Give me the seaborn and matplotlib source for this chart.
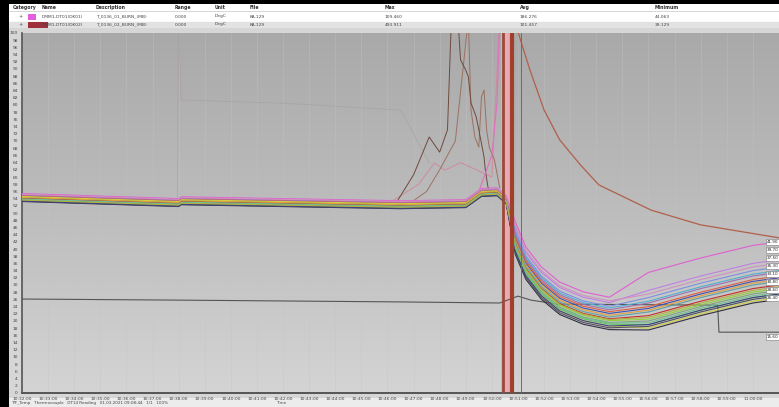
import numpy as np
import pandas as pd
import matplotlib
matplotlib.use('Agg')
import matplotlib.pyplot as plt
from matplotlib.patches import Rectangle
import seaborn as sns

# ---------------- data ----------------
# key times, minutes after 10:32:00
t_key = [0.0, 6.0, 6.1, 14.5, 17.0, 17.6, 18.2, 18.55, 18.9, 19.3, 19.9, 20.6, 21.5, 22.5, 24.0, 26.0, 28.0, 29.0]
phase = ['pre'] * 8 + ['early'] * 6 + ['late'] * 4
bundle_mid = [54.2, 52.8, 53.3, 52.2, 52.5, 55.6, 55.8, 53.6, 42.5, 35.6, 30.0, 25.8, 23.1, 21.6, 22.5, 26.5, 30.0, 31.0]

bundle_colors = ['#e060d0', '#c080e0', '#8090e0', '#4050b0', '#50b0d0', '#60c060', '#90d040',
                 '#d0d040', '#e0a040', '#e06040', '#c03030', '#303040', '#505060', '#80a080',
                 '#a070b0', '#d090c0', '#60a0a0', '#404080', '#70c090', '#b0b040']
pre_offsets = [1.2, 0.9, 0.6, 0.2, 0.5, 0.0, 0.3, 0.4, 0.1, 0.7, -0.2, -1.0, -0.8, -0.4, 0.8, 1.0, -0.5, -0.9, -0.3, -0.6]
early_offsets = [5.0, 3.5, 2.5, 0.5, 2.0, -2.5, -1.5, -3.0, 0.0, 1.0, -1.0, -4.0, -3.5, -2.0, 1.5, 4.0, -0.5, -3.0, -2.2, -1.2]
late_offsets = [11.0, 6.0, 4.0, 1.0, 3.0, -3.5, -2.0, -4.5, 0.5, 1.5, -1.0, -5.0, -4.0, -2.5, 2.5, 5.0, 0.0, -3.5, -3.0, -1.5]

# off-scale spikes before the burn
spike_a_t = [14.3, 15.0, 15.6, 16.0, 16.3, 16.45, 16.7, 16.8, 17.0, 17.1, 17.2, 17.4, 17.5, 17.7, 17.75, 17.85, 18.0]
spike_a_v = [52.4, 60.6, 71.1, 66.9, 73.1, 104, 104, 92.5, 89.7, 87.8, 80.6, 76.7, 73.1, 65.6, 61.9, 57.2, 55.0]
spike_c_t = [14.8, 15.5, 16.0, 16.6, 17.1, 17.2, 17.35, 17.5, 17.6, 17.7, 17.8, 17.9, 18.1, 18.3]
spike_c_v = [52.4, 56.0, 62.0, 70.0, 104, 78.6, 71.1, 68.3, 82.2, 84.2, 73.1, 68.3, 64.7, 57.0]
spike_d_t = [14.0, 15.2, 15.8, 16.2, 16.8, 17.4, 18.0, 18.3]
spike_d_v = [52.5, 58.0, 63.9, 61.9, 64.0, 62.0, 60.0, 104]
spike_e_t = [17.5, 18.0, 18.2, 18.3]
spike_e_v = [56.0, 66.0, 81.0, 104]
gray_t = [0.0, 5.95, 6.0, 6.1, 10.0, 14.5, 15.6]
gray_v = [54.8, 53.4, 104, 81.4, 80.5, 78.6, 64.0]

lower_t = [0, 6, 14.5, 18.3, 19.0, 19.5, 20.5, 26.65, 26.7, 29]
lower_v = [26.1, 25.8, 25.3, 25.0, 26.9, 25.8, 24.7, 24.4, 16.9, 16.9]

decay_t = [18.85, 19.1, 19.46, 20.0, 20.6, 21.4, 22.1, 24.1, 26.0, 29.0]
decay_v = [104, 98, 89.7, 78.6, 70.3, 63.3, 57.8, 50.8, 46.7, 43.1]

band_span = [18.35, 18.85]
band_edges = [18.42, 18.78]
marker_t = 19.1

cursor_vals = [41.9, 39.7, 37.5, 35.3, 33.1, 30.8, 28.6, 26.4, 15.6]

tick_minutes = list(range(0, 29))
tick_labels = ['10:%02d:00' % (32 + m) if 32 + m < 60 else '11:%02d:00' % (32 + m - 60) for m in tick_minutes]

header_cols = ['Category', 'Name', 'Description', 'Range', 'Unit', 'File', 'Max', 'Avg', 'Minimum']
row1 = ['', 'DMM1-DT01(DK01)', 'T_0136_01_BURN_(MB)', '0.000', 'DegC', 'KA.129', '109.460', '186.276', '44.063']
row2 = ['', 'DMM1-DT01(DK02)', 'T_0136_02_BURN_(MB)', '0.000', 'DegC', 'KA.129', '493.911', '101.457', '39.129']
swatch_colors = ['#e45ee0', '#a0303c']

# ---------------- long table for the bundle ----------------
offs = {'pre': pre_offsets, 'early': early_offsets, 'late': late_offsets}
rows = []
for i in range(len(bundle_colors)):
    for k, t in enumerate(t_key):
        rows.append({'line': i, 't': t, 'v': bundle_mid[k] + offs[phase[k]][i]})
bundle_df = pd.DataFrame(rows)

# ---------------- figure ----------------
sns.set_theme(style='white')
plt.rcParams['font.family'] = ['DejaVu Sans']

W, H = 779, 407
fig = plt.figure(figsize=(W / 100, H / 100), dpi=100, facecolor='black')

def fx(px):
    return px / W

def fy(py):
    return 1 - py / H

# window chrome behind the plot
fig.patches.append(Rectangle((fx(9), fy(398)), fx(770), 370 / H, transform=fig.transFigure,
                             facecolor='#d6d6d6', edgecolor='none', zorder=-5))
fig.patches.append(Rectangle((fx(9), 0), fx(770), 9 / H, transform=fig.transFigure,
                             facecolor='#ececec', edgecolor='none', zorder=-4))

# header table
hax = fig.add_axes([fx(9), fy(28), fx(770), 24 / H])
hax.set_xlim(0, W - 9)
hax.set_ylim(24, 0)
hax.set_facecolor('white')
hax.axhspan(18, 24, color='#e2e2e2', zorder=0)
hax.axhline(6.5, color='#c8c8c8', lw=0.5)
for s in hax.spines.values():
    s.set_visible(False)
hax.set_xticks([])
hax.set_yticks([])
col_x = [4, 33, 87, 166, 206, 241, 376, 511, 646]
for cx, name in zip(col_x, header_cols):
    hax.text(cx, 3.8, name, fontsize=3.3, color='#333333', va='center', fontweight='bold')
for r, (vals, yy) in enumerate([(row1, 12.5), (row2, 20.5)]):
    hax.text(12, yy, '+', fontsize=3.5, color='#555555', va='center', ha='center')
    hax.add_patch(Rectangle((19, yy - 3), 8 if r == 0 else 20, 6, facecolor=swatch_colors[r], edgecolor='none'))
    for cx, v in zip(col_x[1:], vals[1:]):
        hax.text(cx, yy, v, fontsize=3.2, color='#444444', va='center')

# main plot
ax = fig.add_axes([fx(22), fy(393), fx(757), 360 / H])
ax.imshow(np.linspace(0, 1, 256).reshape(-1, 1), cmap=matplotlib.colors.LinearSegmentedColormap.from_list(
    'bg', ['#a9a9a9', '#bdbdbd', '#d4d4d4']), extent=[0, 1, 0, 1], transform=ax.transAxes,
    aspect='auto', zorder=0)

for m in range(0, 30):
    ax.axvline(m, color='#c4c4c4', lw=0.4, alpha=0.6, zorder=1)

ax.axvspan(band_span[0], band_span[1], color='#e8aab4', zorder=2, lw=0)

sns.lineplot(data=bundle_df, x='t', y='v', hue='line', palette=bundle_colors, legend=False,
             linewidth=0.8, estimator=None, ax=ax, zorder=4)
sns.lineplot(x=gray_t, y=gray_v, color='#a89a9a', linewidth=0.6, alpha=0.55, ax=ax, zorder=3)
sns.lineplot(x=spike_d_t, y=spike_d_v, color='#d08aa0', linewidth=0.7, ax=ax, zorder=3)
sns.lineplot(x=spike_c_t, y=spike_c_v, color='#9a7262', linewidth=0.7, ax=ax, zorder=3)
sns.lineplot(x=spike_a_t, y=spike_a_v, color='#6e4a3e', linewidth=0.7, ax=ax, zorder=3)
sns.lineplot(x=spike_e_t, y=spike_e_v, color='#e070c0', linewidth=0.8, ax=ax, zorder=3)
sns.lineplot(x=lower_t, y=lower_v, color='#555555', linewidth=0.8, ax=ax, zorder=3)
sns.lineplot(x=decay_t, y=decay_v, color='#b0604a', linewidth=0.9, ax=ax, zorder=3)

ax.axvline(band_edges[0], color='#9a4a38', lw=2.0, zorder=5)
ax.axvline(band_edges[1], color='#a0402c', lw=3.0, zorder=5)
ax.axvline(marker_t, color='#c04848', lw=0.7, zorder=5)

for v in cursor_vals:
    ax.text(28.98, v, '%.2f' % v, fontsize=3.0, ha='right', va='center', color='#222222', zorder=6,
            bbox=dict(boxstyle='square,pad=0.25', facecolor='white', edgecolor='#777777', lw=0.4))

ax.set_xlim(0, 29)
ax.set_ylim(0, 100)
ax.set_yticks(range(0, 101, 2))
ax.set_yticklabels([str(v) for v in range(0, 101, 2)], fontsize=3.2, color='#333333')
ax.set_xticks(tick_minutes)
ax.set_xticklabels(tick_labels, fontsize=3.2, color='#333333')
ax.tick_params(axis='both', length=1.5, width=0.4, pad=1.5, colors='#444444')
ax.set_xlabel('')
ax.set_ylabel('')
for side in ['top', 'right']:
    ax.spines[side].set_visible(False)
ax.spines['left'].set_color('#555555')
ax.spines['left'].set_linewidth(1.2)
ax.spines['bottom'].set_color('#555555')
ax.spines['bottom'].set_linewidth(1.4)

fig.text(fx(11), fy(403), 'T/F_Temp   Thermocouple   DT14 Reading   01.03.2021 09:08:44   1/1   100%',
         fontsize=3.0, color='#444444', va='center')
fig.text(fx(276), fy(403), 'Time', fontsize=3.0, color='#444444', va='center')

fig.savefig('out.png', dpi=100, facecolor=fig.get_facecolor())
